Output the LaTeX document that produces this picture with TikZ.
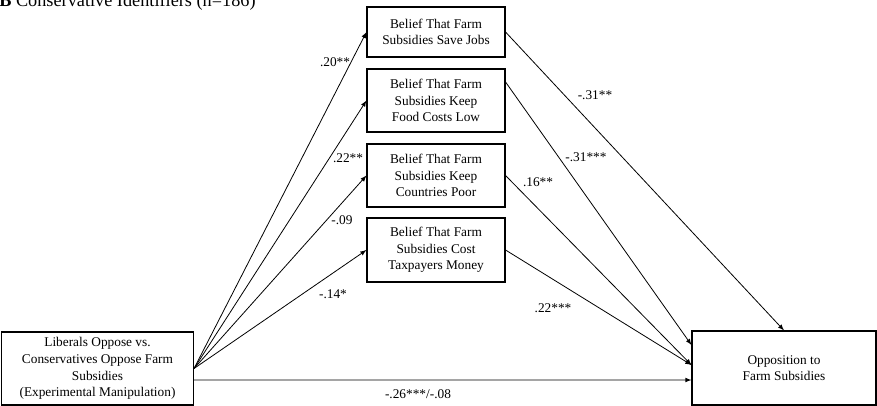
\documentclass[tikz,border=0pt]{standalone}
\usepackage{fontspec}
\setmainfont{Liberation Serif}
\usepackage{tikz}

\tikzset{
  varbox/.style={draw, line width=0.8pt, align=center, font=\fontsize{10}{12.5}\selectfont, inner sep=2pt},
  path/.style={->, line width=0.6pt},
  coef/.style={font=\fontsize{10}{12}\selectfont, inner sep=0pt}
}

\begin{document}
\begin{tikzpicture}[x=0.75pt, y=-0.75pt, >=latex]
\useasboundingbox (0,0) rectangle (877,406);
\node[anchor=base west, inner sep=0pt, font=\fontsize{13.7}{16}\selectfont] (title) at (-1,7) {\textbf{B} Conservative Identifiers (n=186)};

\node[varbox, minimum width=144pt, minimum height=54.75pt] (manip) at (97.5,368.5) {Liberals Oppose vs.\\Conservatives Oppose Farm\\Subsidies\\(Experimental Manipulation)};
\node[varbox, minimum width=103.5pt, minimum height=37.5pt] (jobs) at (436,32) {Belief That Farm\\Subsidies Save Jobs};
\node[varbox, minimum width=103.5pt, minimum height=47.25pt] (food) at (436,100.5) {Belief That Farm\\Subsidies Keep\\Food Costs Low};
\node[varbox, minimum width=103.5pt, minimum height=47.25pt] (poor) at (436,175.5) {Belief That Farm\\Subsidies Keep\\Countries Poor};
\node[varbox, minimum width=103.5pt, minimum height=48pt] (money) at (436,250) {Belief That Farm\\Subsidies Cost\\Taxpayers Money};
\node[varbox, minimum width=138pt, minimum height=55.5pt] (oppose) at (784,368) {Opposition to\\Farm Subsidies};

% paths a
\draw[path] (manip.east) -- (jobs.west);
\draw[path] (manip.east) -- (food.west);
\draw[path] (manip.east) -- (poor.west);
\draw[path] (manip.east) -- (money.west);
% paths b
\draw[path] (jobs.east) -- (oppose.north);
\draw[path] ([yshift=13.9pt]food.east) -- ([yshift=17.25pt]oppose.west);
\draw[path] (poor.east) -- ([yshift=2.25pt]oppose.west);
\draw[path] (money.east) -- ([yshift=2.25pt]oppose.west);
% path c
\draw[path] ([yshift=-8.6pt]manip.east) -- ([yshift=-9pt]oppose.west);

\node[coef] (a1) at (335,62) {.20**};
\node[coef] (a2) at (348,158) {.22**};
\node[coef] (a3) at (342,220) {-.09};
\node[coef] (a4) at (333,294) {-.14*};
\node[coef] (b1) at (595,95) {-.31**};
\node[coef] (b2) at (586,157) {-.31***};
\node[coef] (b3) at (538,182) {.16**};
\node[coef] (b4) at (553,308) {.22***};
\node[coef] (c) at (418,394) {-.26***/-.08};
\end{tikzpicture}
\end{document}
